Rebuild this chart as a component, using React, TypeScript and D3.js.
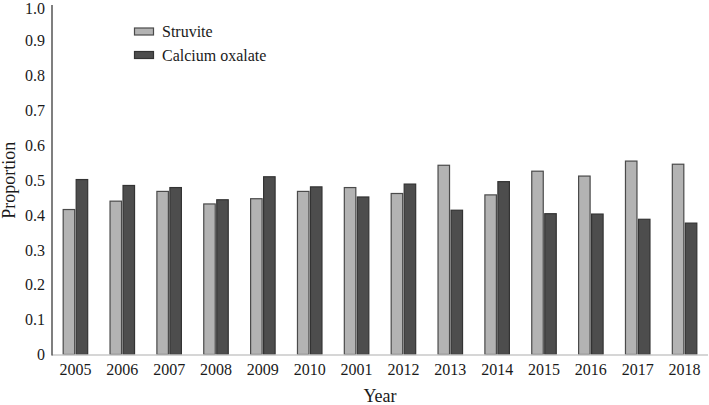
import React from "react";
import * as d3 from "d3";

const years = ["2005","2006","2007","2008","2009","2010","2001","2012","2013","2014","2015","2016","2017","2018"];
const struvite = [0.416,0.440,0.468,0.432,0.447,0.468,0.479,0.462,0.543,0.458,0.526,0.512,0.555,0.546];
const calciumOxalate = [0.502,0.485,0.479,0.444,0.510,0.481,0.452,0.489,0.414,0.496,0.404,0.403,0.388,0.377];
const yTicks = [0,0.1,0.2,0.3,0.4,0.5,0.6,0.7,0.8,0.9,1.0];
const seriesNames = ["Struvite", "Calcium oxalate"];
const seriesFill = ["#b3b3b3", "#4d4d4d"];
const seriesStroke = ["#4a4a4a", "#333333"];

export default function App() {
  const W = 709, H = 405;
  const left = 52, right = 708, top = 6, bottom = 354.5;
  const x = d3.scaleBand<string>().domain(years).range([left, right]);
  const y = d3.scaleLinear().domain([0, 1]).range([bottom, top]);
  const barW = 11.5;
  const gap = 1.5;
  const font = "'Liberation Serif', 'Times New Roman', serif";
  const data = [struvite, calciumOxalate];

  return (
    <svg width={W} height={H} style={{ position: "absolute", left: 0, top: 0, background: "#fff" }} fontFamily={font}>
      {years.map((yr, i) => {
        const cx = (x(yr) as number) + x.bandwidth() / 2;
        return (
          <g key={yr}>
            {data.map((s, k) => {
              const bx = k === 0 ? cx - gap / 2 - barW : cx + gap / 2;
              return (
                <rect
                  key={k}
                  x={bx}
                  y={y(s[i])}
                  width={barW}
                  height={bottom - y(s[i])}
                  fill={seriesFill[k]}
                  stroke={seriesStroke[k]}
                  strokeWidth={1.2}
                />
              );
            })}
          </g>
        );
      })}
      <line x1={left} x2={right} y1={bottom + 0.5} y2={bottom + 0.5} stroke="#c8c8c8" strokeWidth={1.5} />
      {years.map((yr) => (
        <text
          key={yr}
          x={(x(yr) as number) + x.bandwidth() / 2}
          y={375}
          textAnchor="middle"
          fontSize={16}
          fill="#1a1a1a"
        >
          {yr}
        </text>
      ))}
      <line x1={left} x2={left} y1={top - 1} y2={bottom + 1} stroke="#555" strokeWidth={1.5} />
      {yTicks.map((t) => (
        <text key={t} x={45} y={Math.max(y(t), 8)} dy="0.35em" textAnchor="end" fontSize={16} fill="#1a1a1a">
          {t === 0 ? "0" : t.toFixed(1)}
        </text>
      ))}
      <text
        transform={`translate(15, ${y(0.5)}) rotate(-90)`}
        textAnchor="middle"
        fontSize={18}
        fill="#1a1a1a"
      >
        Proportion
      </text>
      <text x={380} y={402} textAnchor="middle" fontSize={18} fill="#1a1a1a">
        Year
      </text>
      {seriesNames.map((n, k) => (
        <g key={n} transform={`translate(134, ${27.5 + k * 23.5})`}>
          <rect x={0.5} y={0.5} width={19} height={7} fill={seriesFill[k]} stroke={seriesStroke[k]} strokeWidth={1.2} />
          <text x={28} y={4} dy="0.35em" fontSize={16} fill="#1a1a1a">
            {n}
          </text>
        </g>
      ))}
    </svg>
  );
}
